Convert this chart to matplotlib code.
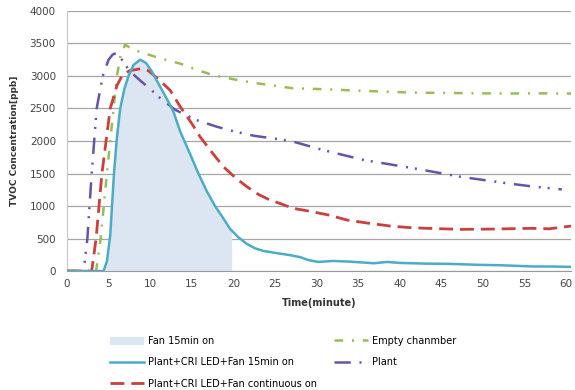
import numpy as np
import matplotlib
matplotlib.use("Agg")
import matplotlib.pyplot as plt
from matplotlib.patches import Patch

# readings from the chart (minute, ppb)
t_fan15 = [0, 4.4, 4.8, 5.2, 5.65, 6.0, 6.4, 6.9, 7.4, 8.0, 8.8, 9.5, 10.2, 11, 12,
           12.8, 13.6, 14.8, 15.8, 16.8, 17.8, 18.8, 19.6, 20.6, 21.6, 22.6, 23.6,
           25, 26.8, 28, 29, 30.2, 32, 34, 36.9, 38.5, 40, 42.9, 46, 49.7, 52,
           56.1, 58, 60.6]
v_fan15 = [0, 0, 150, 550, 1500, 2050, 2500, 2800, 3000, 3170, 3250, 3200, 3070,
           2880, 2650, 2450, 2150, 1800, 1500, 1230, 1000, 810, 650, 520, 420, 350,
           310, 280, 245, 215, 170, 140, 155, 145, 120, 140, 125, 115, 110, 95, 90,
           70, 70, 65]

t_empty = [0, 3.5, 4.05, 4.8, 5.6, 6.0, 6.5, 7.0, 8.0, 8.8, 10, 11.5, 13.6, 15.5,
           17.6, 20, 22.4, 25, 27.2, 30, 35.2, 40, 42.4, 45, 49.3, 53, 56.5, 60.6]
v_empty = [0, 0, 500, 1500, 2500, 3000, 3350, 3480, 3400, 3370, 3320, 3260, 3190,
           3100, 3010, 2950, 2895, 2850, 2810, 2800, 2773, 2750, 2742, 2740, 2733,
           2730, 2733, 2730]

t_plant = [0, 2.0, 2.45, 2.97, 3.57, 4.3, 5.0, 5.5, 6.0, 6.6, 7.5, 8.8, 10, 11.2,
           13, 15.6, 18, 20, 22.5, 25.6, 27.2, 30.8, 35.7, 41.7, 47.3, 52.9, 56, 59.5]
v_plant = [0, 0, 500, 1500, 2500, 3000, 3250, 3330, 3355, 3250, 3080, 2930, 2800,
           2660, 2480, 2320, 2220, 2150, 2080, 2025, 1990, 1860, 1707, 1580, 1450,
           1350, 1300, 1255]

t_cont = [0, 2.97, 3.5, 4.2, 5.2, 6.0, 6.6, 7.5, 8.8, 9.8, 11, 12.4, 13.6, 15, 16,
          17.4, 18.8, 20.2, 21.6, 23, 24.4, 25.6, 27.2, 29.6, 31.5, 33.7, 36, 38.9,
          41, 43.3, 47.3, 51.3, 53, 55.7, 58, 60.6]
v_cont = [0, 0, 500, 1500, 2500, 2850, 3000, 3080, 3110, 3080, 2950, 2780, 2530,
          2270, 2065, 1830, 1605, 1440, 1300, 1180, 1092, 1040, 964, 910, 860, 784,
          740, 692, 670, 657, 641, 646, 650, 657, 650, 692]

fan_window = (0, 19.8)   # fan switched on for 15 min

labels = ["Fan 15min on", "Empty chanmber", "Plant+CRI LED+Fan 15min on", "Plant",
          "Plant+CRI LED+Fan continuous on"]

c_fill = "#dce6f2"
c_cyan = "#4bacc6"
c_red = "#c9403d"
c_green = "#9bbb59"
c_purple = "#6555a8"

fig = plt.figure(figsize=(5.75, 3.9), dpi=100)
ax = fig.add_axes([0.1165, 0.305, 0.8765, 0.667])

tf = np.array(t_fan15)
vf = np.array(v_fan15)
mask = (tf >= fan_window[0]) & (tf <= fan_window[1])
tt = np.append(tf[mask], fan_window[1])
vv = np.append(vf[mask], np.interp(fan_window[1], tf, vf))
ax.fill_between(tt, 0, vv, color=c_fill, lw=0, zorder=1)

lw = 1.8
ds_green = (3.5, 3.5, 0.8, 3.5)
ds_purple = (6.5, 3.5, 0.8, 2.8, 0.8, 3.5)
ds_red = (5, 2.5)
ax.plot(t_empty, v_empty, color=c_green, lw=lw, dashes=ds_green, zorder=3)
ax.plot(t_plant, v_plant, color=c_purple, lw=lw, dashes=ds_purple, zorder=3)
ax.plot(t_cont, v_cont, color=c_red, lw=2.0, dashes=ds_red, zorder=4)
ax.plot(t_fan15, v_fan15, color=c_cyan, lw=1.8, zorder=5)

ax.set_xlim(0, 60.6)
ax.set_ylim(0, 4000)
ax.set_xticks(np.arange(0, 61, 5))
ax.set_yticks(np.arange(0, 4001, 500))
ax.yaxis.grid(True, color="#a6a6a6", lw=0.9)
ax.set_axisbelow(True)
for s in ["top", "right"]:
    ax.spines[s].set_visible(False)
ax.spines["left"].set_color("#c8c8c8")
ax.spines["bottom"].set_color("#9a9a9a")
ax.tick_params(axis="both", labelsize=7.5, colors="#444444", length=0, pad=6)
ax.tick_params(axis="y", pad=8)

ax.set_xlabel("Time(minute)", fontsize=7, fontweight="bold", color="#333333", labelpad=6)
ax.set_ylabel("TVOC Concentration[ppb]", fontsize=6.5, fontweight="bold",
              color="#333333", labelpad=8)

h_fill = Patch(facecolor=c_fill, edgecolor="none")
h_green = plt.Line2D([], [], color=c_green, lw=lw, dashes=ds_green)
h_cyan = plt.Line2D([], [], color=c_cyan, lw=1.8)
h_purple = plt.Line2D([], [], color=c_purple, lw=lw, dashes=ds_purple)
h_red = plt.Line2D([], [], color=c_red, lw=2.0, dashes=ds_red)
# legend fills column-first, so order for rows: fill|green, cyan|purple, red
handles = [h_fill, h_cyan, h_red, h_green, h_purple]
order = [0, 2, 4, 1, 3]
fig.legend(handles, [labels[i] for i in order], loc="upper left",
           bbox_to_anchor=(0.185, 0.148),
           ncol=2, frameon=False, fontsize=7, handlelength=3.5, handleheight=0.9,
           columnspacing=1.7, labelspacing=1.15, borderaxespad=0, handletextpad=0.4)

fig.savefig("out.png", dpi=100)
